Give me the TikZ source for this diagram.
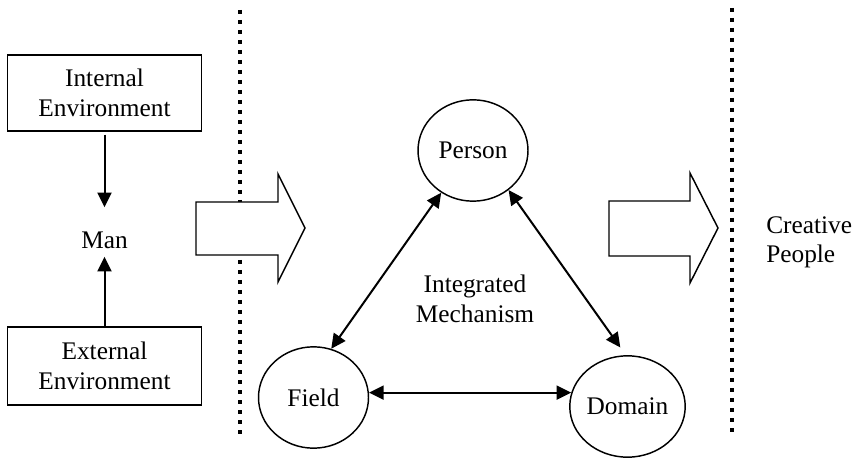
\documentclass[tikz,border=0pt]{standalone}
\usepackage{fontspec}
\setmainfont{Liberation Serif}
\usetikzlibrary{shapes.geometric,arrows.meta}
\begin{document}
\begin{tikzpicture}[x=0.75pt,y=-0.75pt,
  every node/.style={font=\fontsize{19}{22}\selectfont},
  envbox/.style={draw,line width=1.1pt,minimum width=145.5pt,inner sep=0pt,align=center},
  actor/.style={draw,ellipse,line width=1.1pt,minimum width=82.5pt,minimum height=76pt,inner sep=0pt},
  link/.style={line width=1.5pt,-{Triangle[length=11pt,width=10.5pt]}},
  dlink/.style={line width=1.5pt,{Triangle[length=11pt,width=10.5pt]}-{Triangle[length=11pt,width=10.5pt]}},
  sep/.style={line width=3pt,dash pattern=on 3pt off 4.5pt},
  fat/.style={draw,fill=white,line width=1.1pt,line join=miter}]
\useasboundingbox (0,0) rectangle (856,459);
% separators
\draw[sep] (240,10) -- (240,440);
\draw[sep] (732,8) -- (732,437);
% fat arrows
\draw[fat] (196,202) -- (278,202) -- (278,174) -- (305,228) -- (278,282) -- (278,255) -- (196,255) -- cycle;
\draw[fat] (609,201) -- (690,201) -- (690,173) -- (718,228) -- (690,283) -- (690,256) -- (609,256) -- cycle;
% left part
\node[envbox,minimum height=57pt] (internal) at (104.5,93) {Internal\\Environment};
\node[envbox,minimum height=58.5pt] (external) at (104.5,366) {External\\Environment};
\node[inner sep=0pt] (man) at (104.5,240) {Man};
\draw[link,shorten <=2.25pt,shorten >=18pt] (internal.south) -- (man.north);
\draw[link,shorten >=6pt] (external.north) -- (man.south);
% mechanism
\node[actor] (person) at (473,150.5) {Person};
\node[actor] (field) at (313.5,397.5) {Field};
\node[actor] (domain) at (627.5,406.5) {Domain};
\node[align=center] (mech) at (475,299) {Integrated\\Mechanism};
\node[align=left,anchor=west,inner sep=0pt] (creative) at (766,242) {Creative\\People};
\draw[dlink] (person.233) -- (field.70);
\draw[dlink] (person.312) -- ([yshift=6pt]domain.98);
\draw[dlink] (field.5) -- (field.5 -| domain.166);
\end{tikzpicture}
\end{document}
